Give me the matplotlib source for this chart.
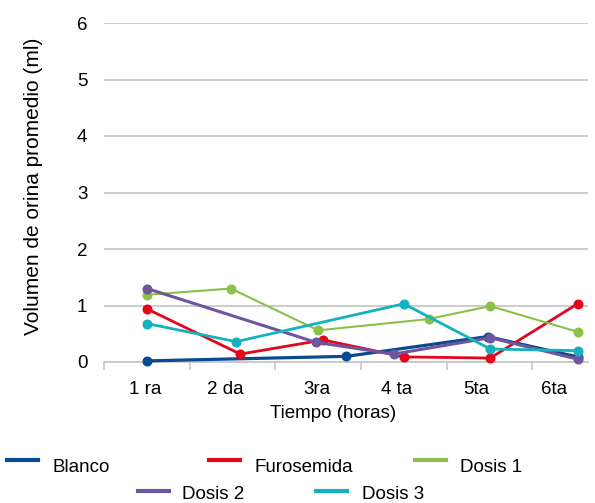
import matplotlib
matplotlib.use("Agg")
import matplotlib.pyplot as plt
from matplotlib.lines import Line2D

plt.rcParams['font.family'] = ['Liberation Sans', 'DejaVu Sans']

# ---- data ----
categories = ["1 ra", "2 da", "3ra", "4 ta", "5ta", "6ta"]
series_names = ["Blanco", "Furosemida", "Dosis 1", "Dosis 2", "Dosis 3"]
colors = ["#0a4a8f", "#e3061c", "#8cc04a", "#6e559f", "#14b1bf"]

blanco_x = [1.0, 3.33, 4.98, 6.03]
blanco_y = [0.02, 0.10, 0.45, 0.09]
furosemida_x = [1.0, 2.09, 3.06, 4.0, 5.01, 6.03]
furosemida_y = [0.94, 0.14, 0.39, 0.09, 0.07, 1.03]
dosis1_x = [1.0, 1.98, 3.0, 4.29, 5.01, 6.04]
dosis1_y = [1.19, 1.30, 0.56, 0.76, 0.99, 0.53]
dosis2_x = [1.0, 2.97, 3.88, 5.01, 6.03]
dosis2_y = [1.30, 0.35, 0.14, 0.43, 0.05]
dosis3_x = [1.0, 2.04, 4.0, 5.01, 6.03]
dosis3_y = [0.68, 0.36, 1.03, 0.23, 0.20]

yticks = [0, 1, 2, 3, 4, 5, 6]

xs = [blanco_x, furosemida_x, dosis1_x, dosis2_x, dosis3_x]
ys = [blanco_y, furosemida_y, dosis1_y, dosis2_y, dosis3_y]

W, H = 595, 503
FS = 13.5
fig = plt.figure(figsize=(W / 100, H / 100), dpi=100)
ax = fig.add_axes([104 / W, 1 - 362 / H, (588 - 104) / W, (362 - 23) / H])

lws = [2.3, 2.0, 1.5, 2.2, 2.0]
for x, y, c, lw, name in zip(xs, ys, colors, lws, series_names):
    ax.plot(x, y, color=c, lw=lw, marker='o', ms=6.2, mec=c, mfc=c,
            label=name, solid_joinstyle='round', clip_on=False, zorder=3)

ax.set_ylim(0, 6)
ax.set_xlim(0.4977, 6.152)
ax.set_yticks(yticks)
ax.set_yticklabels([str(t) for t in yticks], fontsize=FS)
ax.tick_params(axis='y', length=0, pad=12)
ax.yaxis.grid(True, color='#c8c8c8', lw=1.3)
ax.set_axisbelow(True)

# category tick marks and labels
ax.set_xticks([0.5, 1.5, 2.5, 3.5, 4.5, 5.5], minor=True)
ax.tick_params(axis='x', which='minor', length=6, width=1.2, color='#c8c8c8')
label_pos = [0.98, 1.91, 2.99, 3.92, 4.85, 5.76]
ax.set_xticks(label_pos)
ax.set_xticklabels(categories, fontsize=FS)
ax.tick_params(axis='x', which='major', length=0, pad=14)

for s in ['top', 'right', 'left']:
    ax.spines[s].set_visible(False)
ax.spines['bottom'].set_color('#c8c8c8')
ax.spines['bottom'].set_linewidth(1.3)

ax.set_xlabel("Tiempo (horas)", fontsize=FS, va='center')
ax.xaxis.set_label_coords((333 - 104) / 484, (362 - 413) / 339)
ax.set_ylabel("Volumen de orina promedio (ml)", fontsize=15, va='center')
ax.yaxis.set_label_coords((34 - 104) / 484, (362 - 186) / 339)

# manual legend (two centered rows)
line_pos = [(7, 460), (209, 460), (415, 460), (138, 491), (316, 491)]
text_pos = [(52, 472), (255, 472), (460, 472), (182, 499), (362, 499)]
for (px, py), (tx, ty), c, name in zip(line_pos, text_pos, colors, series_names):
    fig.add_artist(Line2D([px / W, (px + 31) / W], [1 - py / H, 1 - py / H],
                          color=c, lw=3.0, transform=fig.transFigure))
    fig.text(tx / W, 1 - ty / H, name, fontsize=FS, va='baseline', ha='left')

fig.savefig("out.png", dpi=100)
